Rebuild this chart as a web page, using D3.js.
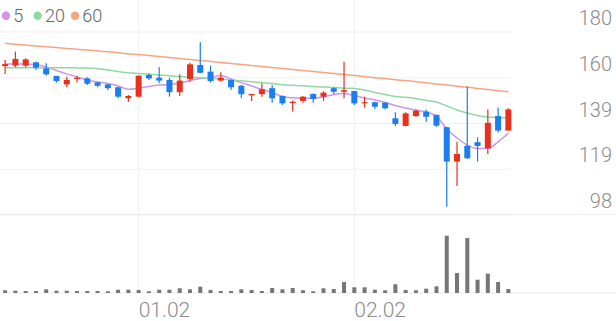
<!DOCTYPE html>
<html>
<head>
<meta charset="utf-8">
<script src="https://cdn.jsdelivr.net/npm/d3@7"></script>
<style>
html, body { margin: 0; padding: 0; background: #fff; }
svg { display: block; font-family: Roboto, "Noto Sans", sans-serif; }
</style>
</head>
<body>
<svg id="chart" width="616" height="321"></svg>
<script>
// daily candles
const opens  = [164.5,164.7,164.7,166.2,163.5,160.1,156.3,158.9,159.0,157.2,156.3,155.0,150.1,150.8,160.5,159.3,158.3,152.8,158.7,165.0,
                162.0,158.0,158.3,155.7,151.4,151.9,154.6,151.1,148.1,148.9,152.0,150.8,154.6,153.0,153.3,147.8,148.3,148.1,141.1,137.7,
                142.1,144.1,142.6,137.1,121.7,128.8,130.4,127.7,142.1,135.6];
const closes = [165.4,167.7,167.5,163.8,160.8,157.8,158.3,159.3,156.6,155.7,154.6,150.8,151.1,160.2,159.0,158.0,152.8,158.0,165.3,161.5,
                157.8,159.3,155.0,151.9,152.0,154.1,150.1,147.8,148.5,150.8,149.8,152.6,153.0,153.7,147.8,148.3,146.3,145.6,138.6,143.3,
                144.5,141.8,137.8,121.7,125.1,123.2,128.7,139.1,135.6,145.1];
const highs  = [167.2,171.0,168.0,166.5,165.8,160.1,159.7,160.2,159.5,157.4,156.5,155.3,151.5,160.3,161.3,164.0,159.3,160.8,166.0,175.2,
                164.7,161.7,158.5,156.0,152.0,156.8,156.0,151.3,149.1,151.0,152.2,153.3,155.0,166.5,153.5,150.8,148.5,148.3,143.8,143.8,
                145.1,145.1,142.8,137.3,130.6,155.3,132.6,145.1,146.0,145.6];
const lows   = [161.0,164.0,164.0,162.8,160.2,157.1,155.0,157.1,156.0,155.0,153.8,150.1,148.5,150.6,158.3,156.8,150.8,151.1,157.5,161.3,
                157.1,157.5,153.8,150.1,148.9,150.8,148.1,147.1,144.1,148.1,148.1,148.9,152.0,150.1,147.1,145.9,145.3,145.1,137.7,137.5,
                141.8,139.6,137.3,101.5,110.8,122.9,121.7,125.1,134.7,135.6];
const volumes = [27,23,20,20,37,23,23,20,20,20,17,33,33,30,17,33,33,47,37,63,
                 30,20,20,37,30,20,50,37,50,28,17,47,40,110,57,57,33,27,87,30,
                 27,43,67,573,200,550,133,193,110,40];

// moving averages as drawn
const ma5  = [165.4,165.4,165.4,165.2,164.1,162.5,161.0,159.6,158.3,157.4,156.7,155.6,154.1,154.6,155.4,156.0,156.3,156.9,158.0,158.9,
              159.3,160.3,158.7,157.1,155.6,154.0,152.7,150.9,150.3,150.1,150.1,150.7,151.8,152.2,151.3,150.2,149.3,148.2,146.8,145.7,
              144.8,143.9,142.1,136.3,132.3,129.1,127.6,127.6,130.5,134.5];
const ma20 = [163.8,163.8,163.8,163.8,163.8,163.8,163.8,163.7,163.6,163.3,162.8,162.1,161.5,161.2,160.9,160.5,160.2,159.8,159.5,159.3,
              159.0,158.7,158.3,157.9,157.5,157.1,156.7,156.1,155.9,155.7,155.4,155.1,154.9,154.6,154.5,153.8,152.7,151.8,150.9,150.5,
              150.0,149.1,148.4,146.6,144.8,143.5,142.4,141.7,141.5,141.2];
const ma60 = [174.7,174.3,173.9,173.5,173.2,172.8,172.4,172.0,171.7,171.3,170.9,170.5,170.0,169.7,169.2,168.8,168.3,167.9,167.4,167.0,
              166.6,166.1,165.7,165.2,164.8,164.3,163.9,163.4,163.0,162.5,162.1,161.6,161.2,160.7,160.3,159.8,159.3,158.9,158.4,158.0,
              157.5,157.0,156.5,156.0,155.5,155.0,154.5,154.0,153.5,153.0];

const maNames  = ['5', '20', '60'];
const maColors = ['#cf94ee', '#8fd9a1', '#f7a481'];

const priceTicks  = [98, 118.5, 139, 159.5, 180];
const priceLabels = ['98', '119', '139', '160', '180'];
const dateTickIdx = [13, 34];
const dateLabels  = ['01.02', '02.02'];

const upColor = '#e8301c';
const downColor = '#1a7df0';

const svg = d3.select('#chart');
const n = opens.length;
const plotRight = 513.5;
const gridRight = 511;

const x = d3.scaleBand().domain(d3.range(n)).range([0, plotRight]);
const cx = i => x(i) + x.bandwidth() / 2;
const y = d3.scaleLinear().domain([98, 180]).range([214.5, 31.5]);
const yVol = d3.scaleLinear().domain([0, 600]).range([293, 233]);

// horizontal gridlines
const gy = svg.append('g')
    .call(d3.axisLeft(y).tickValues(priceTicks).tickSize(-gridRight).tickFormat(''));
gy.select('.domain').remove();
gy.selectAll('line').attr('stroke', '#f0f0f0');

// vertical gridlines at the month marks
const gx = svg.append('g')
    .attr('transform', 'translate(0,293)')
    .call(d3.axisBottom(x).tickValues(dateTickIdx).tickSize(-293).tickFormat(''));
gx.select('.domain').remove();
gx.selectAll('line').attr('stroke', '#f0f0f0');

// panel bottom lines
svg.append('line').attr('x1', 0).attr('x2', 616)
    .attr('y1', y(98)).attr('y2', y(98)).attr('stroke', '#ebebeb');
svg.append('line').attr('x1', 0).attr('x2', 616)
    .attr('y1', yVol(0)).attr('y2', yVol(0)).attr('stroke', '#ebebeb');

// price labels
const ly = svg.append('g')
    .attr('transform', 'translate(612,0)')
    .call(d3.axisLeft(y).tickValues(priceTicks).tickSize(0).tickPadding(0)
        .tickFormat((d, i) => priceLabels[i]));
ly.select('.domain').remove();
ly.selectAll('text')
    .attr('dy', -7)
    .attr('fill', '#8c8c8c')
    .style('font-size', '20px')
    .style('font-weight', 300)
    .style('font-family', 'Roboto, sans-serif');

// date labels
const lx = svg.append('g')
    .attr('transform', 'translate(0,317)')
    .call(d3.axisBottom(x).tickValues(dateTickIdx).tickSize(0).tickPadding(0)
        .tickFormat((d, i) => dateLabels[i]));
lx.select('.domain').remove();
lx.selectAll('text')
    .attr('y', 0).attr('dy', 0)
    .attr('text-anchor', 'start')
    .attr('fill', '#8c8c8c')
    .style('font-size', '21px')
    .style('font-weight', 300)
    .style('font-family', 'Roboto, sans-serif');

// moving average lines
const line = d3.line().x((d, i) => cx(i)).y(d => y(d)).curve(d3.curveMonotoneX);
[ma5, ma20, ma60].forEach((s, k) => {
    svg.append('path').datum(s)
        .attr('d', line)
        .attr('fill', 'none')
        .attr('stroke', maColors[k])
        .attr('stroke-width', 1.5);
});

// candles
const candles = svg.append('g').selectAll('g')
    .data(d3.range(n))
    .join('g')
    .attr('fill', i => closes[i] >= opens[i] ? upColor : downColor)
    .attr('stroke', i => closes[i] >= opens[i] ? upColor : downColor);

candles.append('line')
    .attr('x1', i => cx(i)).attr('x2', i => cx(i))
    .attr('y1', i => y(highs[i])).attr('y2', i => y(lows[i]))
    .attr('stroke-width', 1.2);

const bodyW = 6;
candles.append('rect')
    .attr('stroke', 'none')
    .attr('x', i => cx(i) - bodyW / 2)
    .attr('width', bodyW)
    .attr('y', i => y(Math.max(opens[i], closes[i])))
    .attr('height', i => Math.max(1.2, Math.abs(y(opens[i]) - y(closes[i]))));

// volume bars
const volW = 4;
svg.append('g').selectAll('rect')
    .data(volumes)
    .join('rect')
    .attr('x', (d, i) => cx(i) - volW / 2)
    .attr('width', volW)
    .attr('y', d => yVol(d))
    .attr('height', d => yVol(0) - yVol(d))
    .attr('fill', '#767676');

// legend
const legendX = [6, 37.7, 75];
const legend = svg.append('g').selectAll('g')
    .data(maNames)
    .join('g')
    .attr('transform', (d, i) => `translate(${legendX[i]},15.7)`);
legend.append('circle').attr('r', 4.2).attr('fill', (d, i) => maColors[i]);
legend.append('text')
    .attr('x', 7.3).attr('y', 6.5)
    .attr('fill', '#666')
    .style('font-size', '18px')
    .style('font-weight', 300)
    .text(d => d);
</script>
</body>
</html>
